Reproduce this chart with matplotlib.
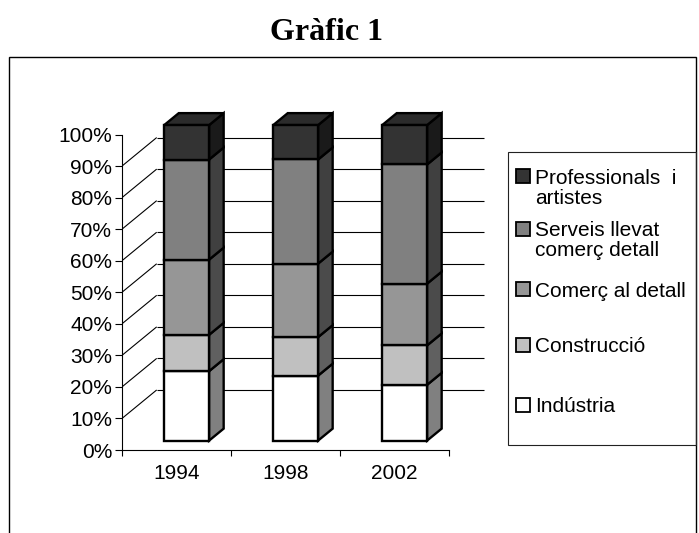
import matplotlib
matplotlib.use("Agg")
import matplotlib.pyplot as plt
from matplotlib.patches import Rectangle, Polygon
from matplotlib.colors import to_rgb
import numpy as np

# ---------------- data ----------------
years = ["1994", "1998", "2002"]
series_names = ["Indústria", "Construcció", "Comerç al detall",
                "Serveis llevat comerç detall", "Professionals i artistes"]
legend_labels = ["Indústria", "Construcció", "Comerç al detall",
                 "Serveis llevat\ncomerç detall", "Professionals  i\nartistes"]
industria = [22.0, 20.6, 17.7]
construccio = [11.5, 12.2, 12.5]
comerc_detall = [23.8, 23.3, 19.6]
serveis = [31.7, 33.0, 37.8]
professionals = [10.9, 10.9, 12.5]
front_colors = ["#ffffff", "#c0c0c0", "#969696", "#808080", "#333333"]
y_ticks = list(range(0, 101, 10))
title = "Gràfic 1"

plt.rcParams['font.family'] = ['Liberation Sans', 'DejaVu Sans']

W, H = 699, 533
fig = plt.figure(figsize=(W / 100, H / 100), dpi=100)
fig.patch.set_facecolor("white")

# ---------------- layout (pixels) ----------------
X0, Y0 = 122.0, 450.0        # pixel position of (x=0, y=0%) from left/top
PXC, PXP = 109.0, 3.155      # pixels per category / per percent
XMAX, YMAX = 3.34, 110.0
ax = fig.add_axes([X0 / W, (H - Y0) / H, XMAX * PXC / W, YMAX * PXP / H])
ax.set_xlim(0, XMAX)
ax.set_ylim(0, YMAX)
ax.patch.set_alpha(0)

DX, DY = 34.7 / PXC, 28.5 / PXP      # depth of floor in data units
F0, F1 = 0.33, 0.42                  # bar front depth fraction, bar depth fraction
BAR_L, BAR_W = 0.282, 0.412
FS = 15

# stacked 100% shares
raw = np.array([industria, construccio, comerc_detall, serveis, professionals], dtype=float)
shares = raw / raw.sum(axis=0) * 100.0

# back wall gridlines + side wall diagonals
for v in y_ticks[1:-1]:
    ax.plot([0, DX], [v, v + DY], color="black", lw=0.8, zorder=1,
            solid_capstyle="butt")
    ax.plot([DX, 3 + DX], [v + DY, v + DY], color="black", lw=0.8, zorder=1,
            solid_capstyle="butt")


def shade(c, f):
    r, g, b = to_rgb(c)
    return (r * f, g * f, b * f)


ox, oy = F0 * DX, F0 * DY
bx, by = F1 * DX, F1 * DY
n_series = shares.shape[0]
for i in range(len(years)):
    bottom = 0.0
    for s in range(n_series):
        h = shares[s, i]
        x0 = i + BAR_L + ox
        y0 = bottom + oy
        col = front_colors[s]
        side_col = shade(col, 0.5)
        ax.add_patch(Polygon([(x0 + BAR_W, y0), (x0 + BAR_W + bx, y0 + by),
                              (x0 + BAR_W + bx, y0 + h + by), (x0 + BAR_W, y0 + h)],
                             closed=True, fc=side_col, ec="black", lw=1.7,
                             joinstyle="miter", zorder=3))
        ax.add_patch(Rectangle((x0, y0), BAR_W, h, fc=col, ec="black", lw=1.7,
                               joinstyle="miter", zorder=4))
        if s == n_series - 1:
            ax.add_patch(Polygon([(x0, y0 + h), (x0 + BAR_W, y0 + h),
                                  (x0 + BAR_W + bx, y0 + h + by), (x0 + bx, y0 + h + by)],
                                 closed=True, fc=shade(col, 0.85), ec="black", lw=1.7,
                                 joinstyle="miter", zorder=3))
        bottom += h

# axes / ticks
for sp in ["top", "right"]:
    ax.spines[sp].set_visible(False)
ax.spines["left"].set_bounds(0, 100)
ax.spines["bottom"].set_bounds(0, 3)
for sp in ["left", "bottom"]:
    ax.spines[sp].set_linewidth(0.8)
    ax.spines[sp].set_color("black")
ax.set_yticks(y_ticks)
ax.set_yticklabels([f"{v}%" for v in y_ticks])
ax.tick_params(axis="y", direction="out", length=5, width=0.8, pad=2, labelsize=FS)
ax.set_xticks([0, 1, 2, 3])
ax.set_xticklabels([])
ax.tick_params(axis="x", which="major", direction="out", length=4.5, width=0.8)
ax.set_xticks([0.5, 1.5, 2.5], minor=True)
ax.set_xticklabels(years, minor=True)
ax.tick_params(axis="x", which="minor", length=0, pad=10, labelsize=FS)

# title
fig.text(326 / W, 1 - 40 / H, title, ha="center", va="baseline", fontsize=23,
         fontweight="bold", family="Liberation Serif")

# outer frame (continues below the picture)
fig.add_artist(Rectangle((8.5 / W, -0.05), (696 - 8.5) / W, 1 - 57 / H + 0.05,
                         transform=fig.transFigure, fill=False, ec="black", lw=1.0))

# legend (manual, Excel style)
fig.add_artist(Rectangle((508 / W, 1 - 445 / H), (696.5 - 508) / W, (445 - 152) / H,
                         transform=fig.transFigure, fill=False, ec="#222222", lw=0.8))
baselines = [412.0, 352.3, 296.7, 236.5, 183.5]
for s in range(n_series):
    yb = baselines[s]
    fig.add_artist(Rectangle((515.5 / W, 1 - (yb - 0.5) / H), 14 / W, 14 / H,
                             transform=fig.transFigure, fc=front_colors[s],
                             ec="black", lw=1.3))
    for k, line in enumerate(legend_labels[s].split("\n")):
        fig.text(535 / W, 1 - (yb + 20 * k) / H, line, ha="left", va="baseline",
                 fontsize=FS)

fig.savefig("out.png", dpi=100, facecolor="white")
